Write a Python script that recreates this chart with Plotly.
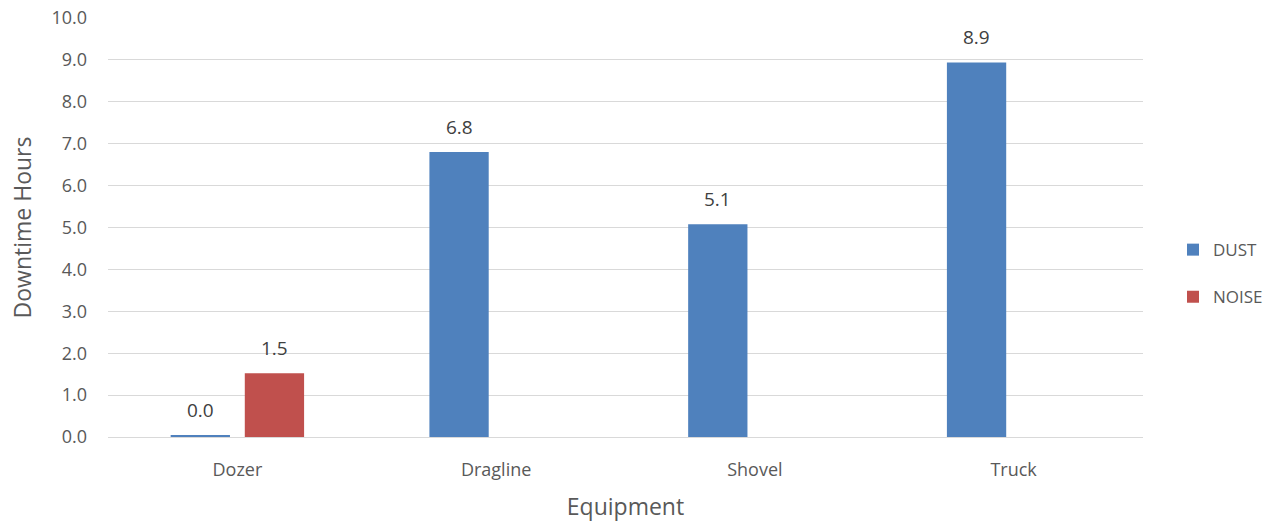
import plotly.graph_objects as go

# Downtime hours by equipment type and cause
equipment = ["Dozer", "Dragline", "Shovel", "Truck"]
dust_hours = [0.04, 6.8, 5.08, 8.94]
noise_hours = [1.52, None, None, None]
y_ticks = [0, 1, 2, 3, 4, 5, 6, 7, 8, 9, 10]

FONT = "Open Sans"
TEXT_COLOR = "#595959"
GRID_COLOR = "#D9D9D9"
BAR_OFFSET_PX = 37  # half the distance between grouped bar centres

fig = go.Figure()
fig.add_trace(go.Bar(name="DUST", x=equipment, y=dust_hours,
                     marker=dict(color="#4F81BD", line=dict(width=0)),
                     legendgroup="dust"))
fig.add_trace(go.Bar(name="NOISE", x=equipment, y=noise_hours,
                     marker=dict(color="#C0504D", line=dict(width=0)),
                     legendgroup="noise"))

# value labels above each bar
annotations = []
for series, shift in ((dust_hours, -BAR_OFFSET_PX), (noise_hours, BAR_OFFSET_PX)):
    for cat, val in zip(equipment, series):
        if val is None:
            continue
        annotations.append(dict(
            x=cat, y=val, xref="x", yref="y", text=f"{val:.1f}",
            showarrow=False, xshift=shift, yshift=10, yanchor="bottom",
            font=dict(family=FONT, size=19, color="#404040")))

fig.update_layout(
    width=1282, height=522,
    margin=dict(l=108, r=139, t=18, b=85, autoexpand=False),
    paper_bgcolor="white", plot_bgcolor="white",
    barmode="group", bargap=0.427, bargroupgap=0.2,
    font=dict(family=FONT, color=TEXT_COLOR),
    annotations=annotations,
    legend=dict(x=1.029, y=0.39, xanchor="left", yanchor="middle",
                font=dict(family=FONT, size=17, color=TEXT_COLOR),
                traceorder="grouped", tracegroupgap=22,
                itemwidth=30, bgcolor="rgba(0,0,0,0)"),
    xaxis=dict(
        showgrid=False, showline=True, linecolor=GRID_COLOR, linewidth=1,
        ticks="", tickfont=dict(family=FONT, size=18, color=TEXT_COLOR),
        ticklabelstandoff=16,
        title=dict(text="Equipment", font=dict(family=FONT, size=23, color=TEXT_COLOR),
                   standoff=20),
    ),
    yaxis=dict(
        range=[0, 10], tickvals=y_ticks, tickformat=".1f",
        showgrid=True, gridcolor=GRID_COLOR, gridwidth=1,
        zeroline=False, showline=False, ticks="",
        tickfont=dict(family=FONT, size=18, color=TEXT_COLOR), ticklabelstandoff=20,
        title=dict(text="Downtime Hours", font=dict(family=FONT, size=23, color=TEXT_COLOR),
                   standoff=13),
    ),
)

fig.write_html("out.html")
